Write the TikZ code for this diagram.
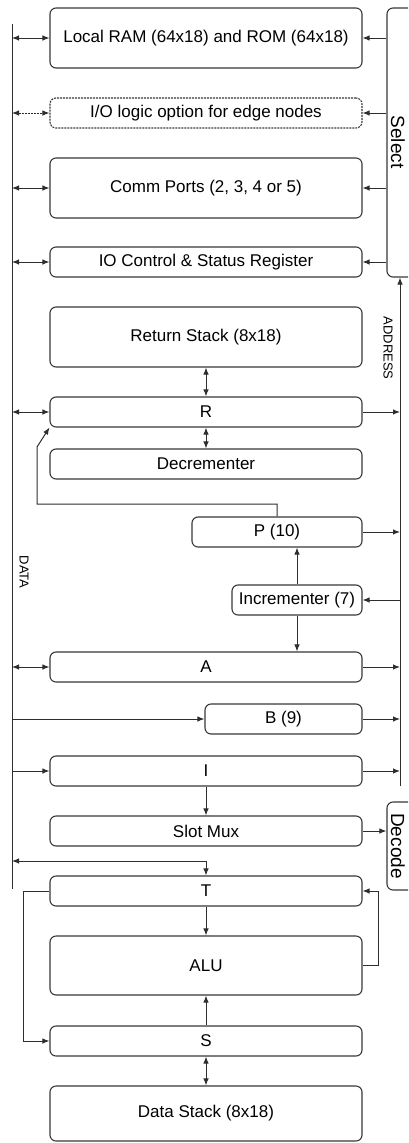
\documentclass[tikz,border=0pt]{standalone}
\usepackage{fontspec}
\setmainfont{Liberation Sans}
\usepackage{tikz}
\usetikzlibrary{arrows.meta, positioning}

\newcommand{\boxfont}{\fontsize{17}{20}\selectfont}
\newcommand{\busfont}{\fontsize{13}{15}\selectfont}
\newcommand{\sidefont}{\fontsize{19}{22}\selectfont}

\begin{document}
\begin{tikzpicture}[x=1pt, y=-1pt]
\tikzstyle{reg} = [rectangle, rounded corners=6pt, minimum width=312pt, minimum height=30pt, inner sep=0pt, text centered, draw=black!78, line width=1.1pt, font=\boxfont]
\tikzstyle{side} = [rectangle, rounded corners=6pt, minimum width=40pt, inner sep=0pt, draw=black!78, line width=1.1pt]
\tikzstyle{arrow} = [line width=1pt, draw=black!82, ->, >={Latex[length=7pt,width=5.5pt]}]
\tikzstyle{bus} = [line width=0.9pt, draw=black!82]

\path [use as bounding box, clip] (0,0) rectangle (408,1143);

% register column
\node (ram) [reg, minimum height=60pt] at (206,38) {Local RAM (64x18) and ROM (64x18)};
\node (iol) [reg, dash pattern=on 2pt off 1pt] at (206,113) {I/O logic option for edge nodes};
\node (comm) [reg, minimum height=60pt] at (206,188) {Comm Ports (2, 3, 4 or 5)};
\node (ioc) [reg] at (206,262) {IO Control \& Status Register};
\node (rs) [reg, minimum height=60pt] at (206,337) {Return Stack (8x18)};
\node (r) [reg] at (206,412) {R};
\node (dec) [reg] at (206,464) {Decrementer};
\node (p) [reg, minimum width=170pt] at (277,532) {P (10)};
\node (inc) [reg, minimum width=130pt] at (297,600) {Incrementer (7)};
\node (a) [reg] at (206,667) {A};
\node (b) [reg, minimum width=157pt] at (283.5,719) {B (9)};
\node (i) [reg] at (206,771) {I};
\node (mux) [reg] at (206,831) {Slot Mux};
\node (t) [reg] at (206,891) {T};
\node (alu) [reg, minimum height=59pt] at (206,965.5) {ALU};
\node (s) [reg] at (206,1041) {S};
\node (ds) [reg, minimum height=55pt] at (206,1113.5) {Data Stack (8x18)};

% select and decode at the right edge
\node (sel) [side, minimum height=269pt] at (407,142.5) {};
\node (seltxt) [rotate=-90, font=\sidefont] at (398,142) {Select};
\node (dcd) [side, minimum height=88pt] at (407,846) {};
\node (dcdtxt) [rotate=-90, font=\sidefont] at (398,846) {Decode};

% buses
\coordinate (dtop) at (12,24);
\coordinate (dbot) at (12,889);
\coordinate (abus) at (400,786);
\draw [bus] (dtop) -- (dbot);
\draw [arrow] (abus) -- (abus |- sel.south);
\node (datatxt) [rotate=-90, font=\busfont] at (24,572) {DATA};
\node (addrtxt) [rotate=-90, font=\busfont] at (388,348) {ADDRESS};

% data bus links
\draw [arrow, <->] (ram.west -| dtop) -- (ram.west);
\draw [arrow, <->, dash pattern=on 2pt off 1pt] (iol.west -| dtop) -- (iol.west);
\draw [arrow, <->] (comm.west -| dtop) -- (comm.west);
\draw [arrow, <->] (ioc.west -| dtop) -- (ioc.west);
\draw [arrow, <->] (r.west -| dtop) -- (r.west);
\draw [arrow, <->] (a.west -| dtop) -- (a.west);
\draw [arrow] (b.west -| dtop) -- (b.west);
\draw [arrow] (i.west -| dtop) -- (i.west);

% select lines
\draw [arrow] (sel.west |- ram) -- (ram.east);
\draw [arrow] (sel.west |- iol) -- (iol.east);
\draw [arrow] (sel.west |- comm) -- (comm.east);
\draw [arrow] (sel.west |- ioc) -- (ioc.east);

% address bus links
\draw [arrow] (r.east) -- (r.east -| abus);
\draw [arrow] (p.east) -- (p.east -| abus);
\draw [arrow] (abus |- inc.east) -- (inc.east);
\draw [arrow] (a.east) -- (a.east -| abus);
\draw [arrow] (b.east) -- (b.east -| abus);
\draw [arrow] (i.east) -- (i.east -| abus);

% return side
\draw [arrow, <->] (rs.south) -- (r.north);
\draw [arrow, <->] (r.south) -- (dec.north);
\coordinate (ploop) at (37,504);
\draw [arrow] (p.north) |- (ploop) -- ++(0,-57) -- (r.south west);
\draw [arrow] (inc.north) -- (inc.north |- p.south);
\draw [arrow] (inc.south) -- (inc.south |- a.north);

% instruction and data side
\draw [arrow] (i.south) -- (mux.north);
\draw [arrow] (mux.east) -- (mux.east -| dcd.west);
\coordinate (tjoin) at (206,861);
\draw [arrow, <->] (tjoin -| dtop) -- (tjoin) -- (t.north);
\draw [arrow] (t.south) -- (alu.north);
\coordinate (alufb) at (378,965.5);
\draw [arrow] (alu.east) -- (alufb) |- (t.east);
\coordinate (tsl) at (23,891);
\draw [arrow] (t.west) -- (tsl) |- (s.west);
\draw [arrow] (s.north) -- (alu.south);
\draw [arrow, <->] (s.south) -- (ds.north);
\end{tikzpicture}
\end{document}
